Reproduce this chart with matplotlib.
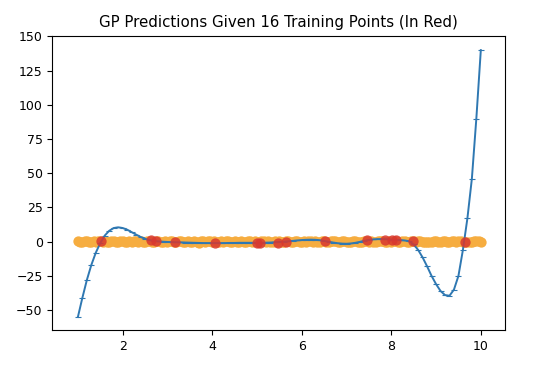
import matplotlib.pyplot as plt

# prediction grid (x) and GP mean
grid_x = [1.0, 1.1, 1.2, 1.3, 1.4, 1.5, 1.6, 1.7, 1.8, 1.9,
          2.0, 2.1, 2.2, 2.3, 2.4, 2.5, 2.6, 2.7, 2.8, 2.9,
          3.0, 3.1, 3.2, 3.3, 3.4, 3.5, 3.6, 3.7, 3.8, 3.9,
          4.0, 4.1, 4.2, 4.3, 4.4, 4.5, 4.6, 4.7, 4.8, 4.9,
          5.0, 5.1, 5.2, 5.3, 5.4, 5.5, 5.6, 5.7, 5.8, 5.9,
          6.0, 6.1, 6.2, 6.3, 6.4, 6.5, 6.6, 6.7, 6.8, 6.9,
          7.0, 7.1, 7.2, 7.3, 7.4, 7.5, 7.6, 7.7, 7.8, 7.9,
          8.0, 8.1, 8.2, 8.3, 8.4, 8.5, 8.6, 8.7, 8.8, 8.9,
          9.0, 9.1, 9.2, 9.3, 9.4, 9.5, 9.6, 9.7, 9.8, 9.9,
          10.0]

gp_mean = [-55, -41, -28, -17, -8, -1, 4.5, 8, 10, 10.5,
           10, 8.8, 7, 5.2, 3.5, 2.1, 1.2, 0.6, 0.2, 0,
           -0.2, -0.3, -0.4, -0.5, -0.6, -0.7, -0.8, -0.9, -1.0, -1.0,
           -1.0, -1.0, -1.0, -1.0, -0.9, -0.9, -0.8, -0.8, -0.8, -0.8,
           -0.8, -0.8, -0.7, -0.6, -0.4, -0.2, 0, 0.3, 0.6, 0.9,
           1.2, 1.4, 1.5, 1.4, 1.1, 0.6, 0, -0.6, -1.1, -1.4,
           -1.5, -1.3, -0.8, -0.1, 0.7, 1.3, 1.7, 1.9, 1.9, 1.8,
           1.6, 1.4, 1.2, 0.9, 0.3, -2, -6, -11.5, -18, -25,
           -31, -36, -39, -39.5, -35, -25, -6, 17, 46, 90,
           140]

# true (noisy) targets on the same grid
true_y = [0.3, -0.2, 0.6, 0.1, -0.4, 0.3, 0.7, -0.1, 0.2, -0.5,
          0.4, 0.1, -0.3, 0.5, 0.2, -0.4, 0.5, -0.1, 0.3, -0.5,
          0.1, 0.6, -0.2, 0.3, -0.3, 0.0, 0.5, -0.6, 0.2, 0.4,
          -0.1, -0.4, 0.5, 0.2, -0.2, 0.3, -0.5, 0.1, 0.4, -0.3,
          0.1, 0.6, -0.2, -0.4, 0.3, 0.5, -0.1, 0.2, -0.5, 0.4,
          0.0, -0.3, 0.6, 0.2, -0.2, 0.4, -0.1, 0.3, -0.5, 0.5,
          0.1, -0.2, 0.3, -0.4, 0.5, 0.1, -0.5, 0.2, 0.4, -0.3,
          0.0, 0.6, -0.1, 0.3, -0.4, 0.2, 0.5, -0.3, 0.1, -0.1,
          0.5, -0.2, 0.3, -0.5, 0.2, 0.4, -0.2, 0.1, -0.4, 0.3,
          0.1]

# extra noisy targets between the grid points
mid_x = [1.05, 1.15, 1.25, 1.35, 1.45, 1.55, 1.65, 1.75, 1.85, 1.95,
         2.05, 2.15, 2.25, 2.35, 2.45, 2.55, 2.65, 2.75, 2.85, 2.95,
         3.05, 3.15, 3.25, 3.35, 3.45, 3.55, 3.65, 3.75, 3.85, 3.95,
         4.05, 4.15, 4.25, 4.35, 4.45, 4.55, 4.65, 4.75, 4.85, 4.95,
         5.05, 5.15, 5.25, 5.35, 5.45, 5.55, 5.65, 5.75, 5.85, 5.95,
         6.05, 6.15, 6.25, 6.35, 6.45, 6.55, 6.65, 6.75, 6.85, 6.95,
         7.05, 7.15, 7.25, 7.35, 7.45, 7.55, 7.65, 7.75, 7.85, 7.95,
         8.05, 8.15, 8.25, 8.35, 8.45, 8.55, 8.65, 8.75, 8.85, 8.95,
         9.05, 9.15, 9.25, 9.35, 9.45, 9.55, 9.65, 9.75, 9.85, 9.95]
mid_y = [-0.1, 0.4, -0.3, 0.2, 0.5, -0.2, 0.1, 0.4, -0.4, 0.2,
         -0.2, 0.3, 0.5, -0.3, 0.0, 0.4, -0.1, 0.2, -0.4, 0.3,
         0.5, -0.1, 0.2, -0.4, 0.3, 0.1, -0.3, 0.4, -0.1, 0.2,
         0.3, -0.2, 0.1, 0.5, -0.3, 0.0, 0.4, -0.2, 0.2, 0.5,
         -0.3, 0.2, 0.4, -0.1, 0.0, -0.4, 0.3, 0.1, 0.5, -0.2,
         0.3, 0.2, -0.4, 0.0, 0.5, -0.2, 0.2, 0.4, -0.1, 0.3,
         -0.3, 0.4, 0.1, -0.2, 0.3, 0.5, -0.1, 0.2, -0.3, 0.4,
         0.2, -0.3, 0.5, 0.0, 0.2, -0.2, 0.4, 0.1, -0.4, 0.3,
         0.1, 0.4, -0.3, 0.2, -0.1, 0.5, 0.0, -0.3, 0.3, 0.2]

# 16 training points
train_x = [1.52, 2.64, 2.75, 3.16, 4.07, 5.0, 5.06, 5.47,
           5.64, 6.51, 7.46, 7.85, 8.02, 8.11, 8.48, 9.64]
train_y = [0.5, 1.0, 0.4, -0.1, -0.6, -0.9, -0.8, -0.6,
           -0.4, 0.5, 1.0, 1.1, 1.2, 1.0, 0.3, -0.5]

plt.rcParams["font.size"] = 9

fig = plt.figure(figsize=(5.4, 3.65), dpi=100)
ax = fig.add_axes([0.097, 0.096, 0.839, 0.806])

ax.scatter(grid_x + mid_x, true_y + mid_y, s=55, color="#f6ad40",
           linewidths=0, zorder=1)
ax.plot(grid_x, gp_mean, color="#2f78b2", lw=1.4, marker="_", ms=4, mew=0.8, zorder=2)
ax.scatter(train_x, train_y, s=55, color="#d8382f", alpha=0.85, linewidths=0, zorder=3)

ax.set_xlim(0.43, 10.55)
ax.set_ylim(-64.5, 150.5)
ax.set_xticks([2, 4, 6, 8, 10])
ax.set_yticks([-50, -25, 0, 25, 50, 75, 100, 125, 150])
ax.set_title("GP Predictions Given 16 Training Points (In Red)", fontsize=10.8)

fig.savefig("out.png", dpi=100)
plt.close(fig)
